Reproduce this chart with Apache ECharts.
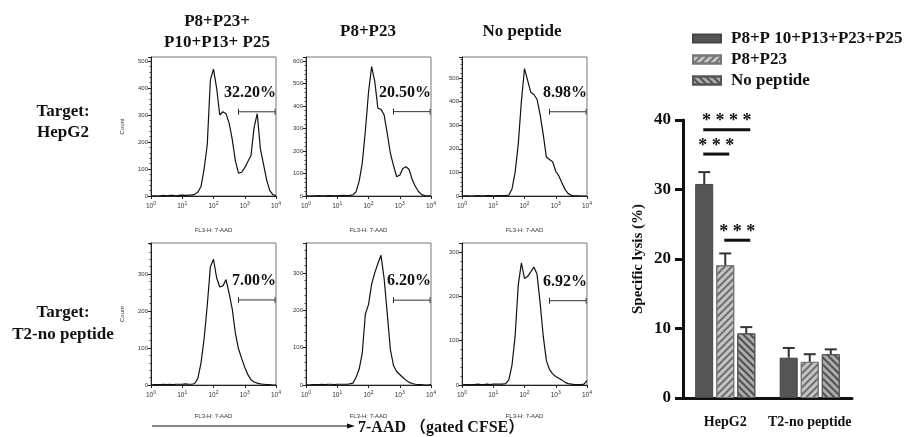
<!DOCTYPE html>
<html>
<head>
<meta charset="utf-8">
<script src="https://cdn.jsdelivr.net/npm/echarts@6/dist/echarts.min.js"></script>
<style>
html, body { margin: 0; padding: 0; background: #fff; }
#chart { width: 914px; height: 437px; }
</style>
</head>
<body>
<div id="chart"></div>
<script>
// FL3-H channel, in decades (10^0 .. 10^4)
const decades = [0, 0.1, 0.2, 0.3, 0.4, 0.5, 0.6, 0.7, 0.8, 0.9, 1.0, 1.1, 1.2, 1.3, 1.4, 1.5, 1.6, 1.7, 1.8, 1.9, 2.0,
  2.1, 2.2, 2.3, 2.4, 2.5, 2.6, 2.7, 2.8, 2.9, 3.0, 3.1, 3.2, 3.3, 3.4, 3.5, 3.6, 3.7, 3.8, 3.9, 4.0]

// counts per channel
const hepMix = [0, 1, 0, 1, 2, 1, 2, 2, 1, 2, 3, 2, 3, 3, 6, 15, 35, 100, 190, 430, 470,
  400, 300, 312, 305, 270, 210, 130, 85, 88, 105, 128, 150, 255, 305, 175, 118, 60, 20, 5, 1]
const hepP8 = [1, 0, 1, 1, 2, 1, 1, 2, 2, 1, 2, 2, 3, 2, 3, 5, 18, 65, 145, 290, 460,
  575, 510, 390, 385, 360, 278, 190, 135, 86, 92, 122, 130, 118, 72, 42, 20, 6, 2, 1, 0]
const hepNone = [0, 1, 1, 0, 1, 2, 1, 1, 2, 2, 1, 2, 2, 2, 2, 4, 30, 100, 220, 400, 540,
  490, 440, 430, 410, 345, 260, 165, 155, 145, 105, 85, 55, 27, 10, 3, 1, 1, 0, 0, 0]
const t2Mix = [0, 1, 1, 1, 2, 1, 2, 1, 2, 2, 2, 3, 2, 2, 4, 18, 60, 125, 215, 320, 340,
  290, 265, 268, 285, 248, 205, 140, 98, 72, 48, 28, 14, 8, 5, 3, 2, 1, 1, 0, 0]
const t2P8 = [1, 0, 1, 1, 1, 2, 1, 2, 2, 1, 2, 2, 2, 2, 3, 5, 20, 42, 85, 190, 215,
  270, 300, 325, 347, 285, 191, 95, 52, 36, 28, 20, 13, 7, 4, 2, 1, 1, 0, 0, 1]
const t2None = [0, 1, 1, 1, 1, 2, 1, 1, 2, 1, 2, 2, 2, 2, 3, 12, 45, 110, 225, 275, 240,
  245, 255, 266, 250, 185, 110, 55, 35, 25, 19, 15, 11, 6, 3, 2, 1, 1, 1, 2, 10]

const histCounts = [hepMix, hepP8, hepNone, t2Mix, t2P8, t2None]
const countMax = [515, 618, 589, 384, 380, 320]
const gatePct = ['32.20%', '20.50%', '8.98%', '7.00%', '6.20%', '6.92%']
const gateLevel = [312, 375, 357, 230, 227, 190]
const gateRange = [2.8, 3.97]

// specific lysis bar chart
const groups = ['HepG2', 'T2-no peptide']
const peptideSets = ['P8+P 10+P13+P23+P25', 'P8+P23', 'No peptide']
const lysisMean = [[30.8, 5.8], [19.1, 5.2], [9.3, 6.3]]
const lysisTop = [[32.5, 7.2], [20.8, 6.3], [10.2, 7.0]]
// [group, from bar, to bar, level, stars]
const sigMarks = [[0, 0, 2, 38.6, '* * * *'], [0, 0, 1, 35.1, '* * *'], [0, 1, 2, 22.7, '* * *']]

const serif = 'Liberation Serif, Noto Sans CJK SC'
const sans = 'Liberation Sans, Arial'
const cols = [151, 306, 462]
const rows = [{ top: 57, height: 139 }, { top: 243, height: 142 }]
const barStep = 21

const chart = echarts.init(document.getElementById('chart'))

const grids = [], xAxes = [], yAxes = [], series = []

histCounts.forEach((counts, i) => {
  const r = rows[Math.floor(i / 3)], c = cols[i % 3]
  grids.push({ left: c, top: r.top, width: 125, height: r.height, show: true, borderColor: '#777', borderWidth: 1 })
  xAxes.push({
    type: 'log', gridIndex: i, min: 1, max: 10000, logBase: 10, splitNumber: 4,
    name: 'FL3-H: 7-AAD', nameLocation: 'middle', nameGap: i < 3 ? 31 : 28,
    nameTextStyle: { fontSize: 6, fontFamily: sans, color: '#333' },
    axisLine: { lineStyle: { color: '#222', width: 1 } },
    axisTick: { length: 3, lineStyle: { color: '#222' } },
    splitLine: { show: false },
    axisLabel: {
      margin: 5, color: '#333', fontSize: 6.5, fontFamily: sans,
      formatter: v => '10{s|' + Math.round(Math.log10(v)) + '}',
      rich: { s: { fontSize: 5, verticalAlign: 'bottom', padding: [0, 0, 5, 0], fontFamily: sans, color: '#333' } }
    }
  })
  yAxes.push({
    type: 'value', gridIndex: i, min: 0, max: countMax[i], interval: 100,
    name: i % 3 === 0 ? 'Count' : '', nameLocation: 'middle', nameGap: 26,
    nameTextStyle: { fontSize: 6, fontFamily: sans, color: '#333' },
    axisLine: { show: true, lineStyle: { color: '#222', width: 1 } },
    axisTick: { length: 3, lineStyle: { color: '#222' } },
    minorTick: { show: true, splitNumber: 5, length: 1.5, lineStyle: { color: '#444' } },
    splitLine: { show: false },
    axisLabel: { margin: 3, fontSize: 6, fontFamily: sans, color: '#333', showMaxLabel: false }
  })
  series.push({
    type: 'line', xAxisIndex: i, yAxisIndex: i, showSymbol: false, silent: true,
    lineStyle: { color: '#111', width: 1.2 },
    data: decades.map((d, k) => [Math.pow(10, d), counts[k]])
  })
  series.push({
    type: 'custom', xAxisIndex: i, yAxisIndex: i, silent: true,
    encode: { x: [0, 1], y: 2 },
    data: [[Math.pow(10, gateRange[0]), Math.pow(10, gateRange[1]), gateLevel[i]]],
    renderItem: (params, api) => {
      const p1 = api.coord([api.value(0), api.value(2)])
      const p2 = api.coord([api.value(1), api.value(2)])
      const st = { stroke: '#333', lineWidth: 1 }
      return {
        type: 'group', children: [
          { type: 'line', shape: { x1: p1[0], y1: p1[1], x2: p2[0], y2: p2[1] }, style: st },
          { type: 'line', shape: { x1: p1[0], y1: p1[1] - 3, x2: p1[0], y2: p1[1] + 3 }, style: st },
          { type: 'line', shape: { x1: p2[0], y1: p2[1] - 3, x2: p2[0], y2: p2[1] + 3 }, style: st },
          { type: 'text', x: p2[0] + 1, y: p1[1] - 19, style: {
            text: gatePct[i], fontSize: 16, fontWeight: 'bold', fontFamily: serif, fill: '#111',
            align: 'right', verticalAlign: 'middle' } }
        ]
      }
    }
  })
})

// bar chart grid
const bg = grids.length
grids.push({ left: 683, right: 62, top: 120, bottom: 39 })
xAxes.push({
  type: 'category', gridIndex: bg, data: groups,
  axisLine: { lineStyle: { color: '#111', width: 3 } },
  axisTick: { alignWithLabel: true, length: 14, lineStyle: { color: '#111', width: 3 } },
  axisLabel: { interval: 0, hideOverlap: false, margin: 17, fontSize: 14, fontWeight: 'bold', fontFamily: serif, color: '#111' }
})
yAxes.push({
  type: 'value', gridIndex: bg, min: 0, max: 40, interval: 10,
  name: 'Specific lysis (%)', nameLocation: 'middle', nameGap: 37,
  nameTextStyle: { fontSize: 15, fontWeight: 'bold', fontFamily: serif, color: '#111' },
  axisLine: { show: true, lineStyle: { color: '#111', width: 3 } },
  axisTick: { show: true, length: 8, lineStyle: { color: '#111', width: 3 } },
  splitLine: { show: false },
  axisLabel: { margin: 12, fontSize: 17, fontWeight: 'bold', fontFamily: serif, color: '#111' }
})

const barStyles = [
  { color: '#555', borderColor: '#444', borderWidth: 1 },
  { color: '#c4c4c4', borderColor: '#777', borderWidth: 1,
    decal: { symbol: 'rect', symbolSize: 1, dashArrayX: [1, 0], dashArrayY: [2, 3], rotation: -Math.PI / 4, color: '#6e6e6e' } },
  { color: '#ababab', borderColor: '#555', borderWidth: 1,
    decal: { symbol: 'rect', symbolSize: 1, dashArrayX: [1, 0], dashArrayY: [2, 3], rotation: Math.PI / 4, color: '#505050' } }
]

peptideSets.forEach((name, k) => {
  series.push({
    name, type: 'bar', xAxisIndex: bg, yAxisIndex: bg, barWidth: 18, barGap: '17%',
    itemStyle: barStyles[k], data: lysisMean[k]
  })
})

peptideSets.forEach((name, k) => {
  series.push({
    type: 'custom', xAxisIndex: bg, yAxisIndex: bg, silent: true, z: 3,
    encode: { x: 0, y: [1, 2] },
    data: groups.map((g, j) => [j, lysisMean[k][j], lysisTop[k][j]]),
    renderItem: (params, api) => {
      const base = api.coord([api.value(0), api.value(1)])
      const top = api.coord([api.value(0), api.value(2)])
      const x = base[0] + (k - 1) * barStep
      const st = { stroke: '#333', lineWidth: 2 }
      return {
        type: 'group', children: [
          { type: 'line', shape: { x1: x, y1: base[1], x2: x, y2: top[1] }, style: st },
          { type: 'line', shape: { x1: x - 6, y1: top[1], x2: x + 6, y2: top[1] }, style: st }
        ]
      }
    }
  })
})

series.push({
  type: 'custom', xAxisIndex: bg, yAxisIndex: bg, silent: true, z: 4,
  encode: { x: 0, y: 3 },
  data: sigMarks.map(s => s.slice(0, 4)),
  renderItem: (params, api) => {
    const c = api.coord([api.value(0), api.value(3)])
    const x1 = c[0] + (api.value(1) - 1) * barStep - 1
    const x2 = c[0] + (api.value(2) - 1) * barStep + 4
    return {
      type: 'group', children: [
        { type: 'line', shape: { x1, y1: c[1], x2, y2: c[1] }, style: { stroke: '#111', lineWidth: 3 } },
        { type: 'text', x: (x1 + x2) / 2, y: c[1] - 8, style: {
          text: sigMarks[params.dataIndex][4], fontSize: 18, fontWeight: 'bold', fontFamily: serif,
          fill: '#111', align: 'center', verticalAlign: 'middle' } }
      ]
    }
  }
})

const headText = (text, x, y, size) => ({
  type: 'text', x, y, silent: true,
  style: { text, fontSize: size || 16, fontWeight: 'bold', fontFamily: serif, fill: '#111', align: 'center', verticalAlign: 'middle' }
})

chart.setOption({
  animation: false,
  legend: {
    data: peptideSets, orient: 'vertical', left: 687, top: 25, icon: 'rect',
    itemWidth: 28, itemHeight: 8, itemGap: 4,
    textStyle: { fontSize: 17, lineHeight: 16, fontWeight: 'bold', fontFamily: serif, color: '#111', padding: [0, 0, 0, 5] }
  },
  grid: grids,
  xAxis: xAxes,
  yAxis: yAxes,
  series,
  graphic: [
    headText('P8+P23+', 217, 22, 17),
    headText('P10+P13+ P25', 217, 43, 17),
    headText('P8+P23', 368, 32, 17),
    headText('No peptide', 522, 32, 17),
    headText('Target:', 63, 112, 17),
    headText('HepG2', 63, 133, 17),
    headText('Target:', 63, 313, 17),
    headText('T2-no peptide', 63, 335, 17),
    { type: 'line', silent: true, shape: { x1: 152, y1: 426, x2: 349, y2: 426 }, style: { stroke: '#111', lineWidth: 1 } },
    { type: 'polygon', silent: true, shape: { points: [[347, 423.5], [355, 426], [347, 428.5]] }, style: { fill: '#111' } },
    { type: 'text', x: 358, y: 428, silent: true,
      style: { text: '7-AAD （gated CFSE）', fontSize: 16, fontWeight: 'bold', fontFamily: serif, fill: '#111', align: 'left', verticalAlign: 'middle' } }
  ]
})
</script>
</body>
</html>
